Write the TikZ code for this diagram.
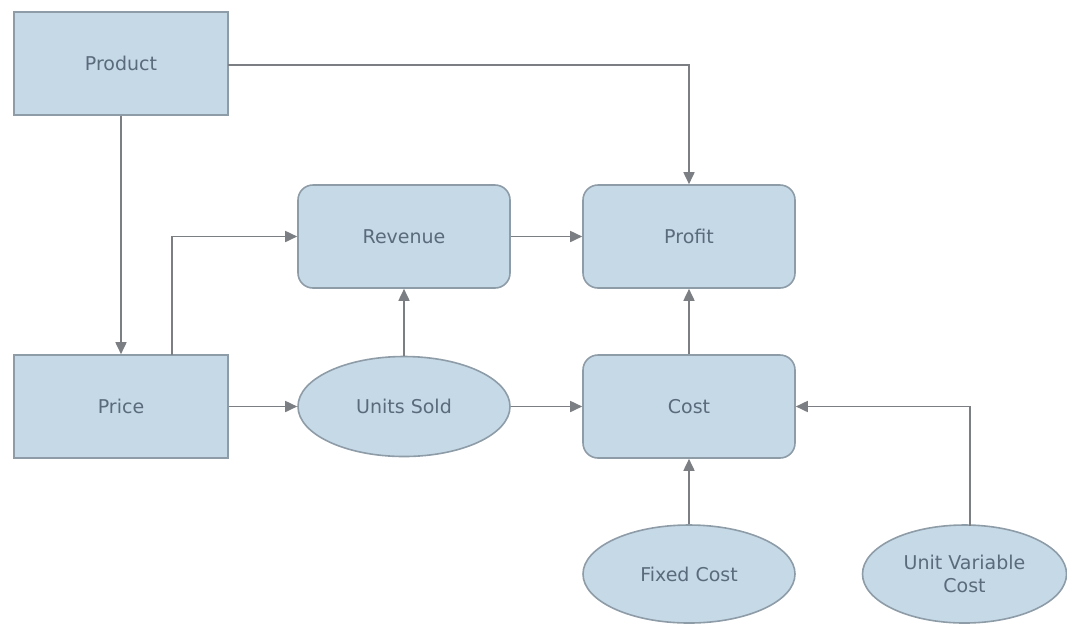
\documentclass[tikz,border=0pt]{standalone}
\usepackage{fontspec}
\setmainfont{DejaVu Sans}
\usetikzlibrary{shapes.geometric,arrows.meta,calc}
\definecolor{boxfill}{HTML}{C6D9E7}
\definecolor{boxline}{HTML}{8E9CA8}
\definecolor{boxtext}{HTML}{5A6B7B}
\definecolor{wire}{HTML}{7B7E82}
\tikzset{
  base/.style={draw=boxline, fill=boxfill, line width=1.6pt, inner sep=0pt,
    text=boxtext, font=\fontsize{19}{23}\selectfont, align=center},
  sqbox/.style={base, rectangle, minimum width=214pt, minimum height=103pt},
  rbox/.style={base, rectangle, rounded corners=15pt, minimum width=212pt, minimum height=103pt},
  oval/.style={base, ellipse, minimum width=212pt, minimum height=100pt},
  link/.style={draw=wire, line width=1.7pt, -{Triangle[length=12pt,width=11pt]}},
}
\begin{document}
\begin{tikzpicture}[x=1pt,y=-1pt]
\useasboundingbox (0,0) rectangle (1067,625);

% nodes
\node[sqbox] (product) at (121,63.5) {Product};
\node[sqbox] (price)   at (121,406.5) {Price};
\node[rbox]  (revenue) at (404,236.5) {Revenue};
\node[rbox]  (profit)  at (689,236.5) {Profit};
\node[oval]  (units)   at (404,406.5) {Units Sold};
\node[rbox]  (cost)    at (689,406.5) {Cost};
\node[oval, minimum height=98pt] (fixed) at (689,574) {Fixed Cost};
\node[oval, minimum width=204pt, minimum height=98pt] (uvc) at (964.5,574) {Unit Variable\\Cost};

% connector end points off the node centres
\coordinate (prodout) at (228,65);
\coordinate (priceup) at (172,355);
\coordinate (uvctop)  at (970,526);

% connectors
\draw[link] (prodout) -| (profit.north);
\draw[link] (product.south) -- (price.north);
\draw[link] (priceup) |- (revenue.west);
\draw[link] (price.east) -- (units.west);
\draw[link] (units.north) -- (revenue.south);
\draw[link] (revenue.east) -- (profit.west);
\draw[link] (units.east) -- (cost.west);
\draw[link] (cost.north) -- (profit.south);
\draw[link] (fixed.north) -- (cost.south);
\draw[link] (uvctop) |- (cost.east);
\end{tikzpicture}
\end{document}
